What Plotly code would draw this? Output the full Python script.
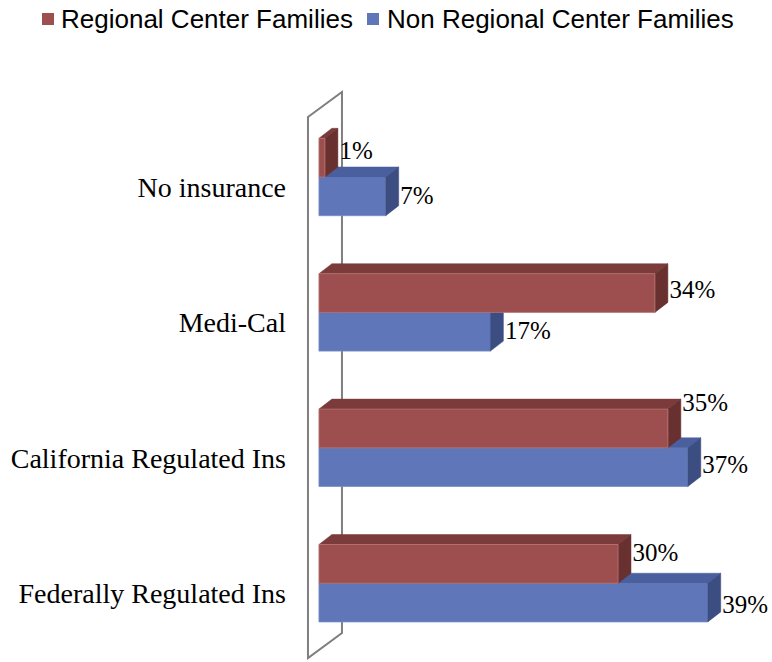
import plotly.graph_objects as go

# ---------------- data ----------------
categories = ["No insurance", "Medi-Cal", "California Regulated Ins", "Federally Regulated Ins"]
regional = [0.6, 33.7, 35, 30]
non_regional = [6.7, 17.2, 37, 39]
series_names = ["Regional Center Families", "Non Regional Center Families"]

# ---------------- style ----------------
W, H = 772, 662
ML, MR, MT, MB = 300, 10, 60, 2
RED = dict(front="#9C4F4E", top="#7B3B3A", side="#683130", edge="#B87574")
BLUE = dict(front="#5F77B8", top="#4A5F9E", side="#3C4D82", edge="#7A8DC6")
PX_Y = 135.4            # pixels per category unit
BAR_H = 38.7 / PX_Y     # bar thickness in category units
DX = 1.3                # 3D depth, x (value units)
DY = 10 / PX_Y          # 3D depth, y (category units)
LABEL_FONT = "Liberation Serif"
red_label_up_px = [4.5, 1, 24, 9.5]
blue_label_up_px = [-1.5, -1, 0, -4]
X_RANGE = [-1.9, 44.44]
Y_RANGE = [-0.567, 3.864]
WALL = dict(x_front=-1.10, x_back=2.31, y_front=(-0.553, 3.443), y_back=(-0.368, 3.628))
# legend layout (pixels from top-left)
LEG_SQ = [(42, 13, 12), (367, 13, 12)]     # x, y, size
LEG_TXT_X = [59, 385]
LEG_TXT_Y = 19
LEG_FONT = dict(family="Liberation Sans", size=26, color="#000000")

n = len(categories)
pos = [n - 1 - i for i in range(n)]   # boundary between the two bars of a category


def px_to_paper_x(px):
    return (px - ML) / (W - ML - MR)


def px_to_paper_y(py):
    return (H - MB - py) / (H - MT - MB)


def faces(values, y0s):
    tx, ty, sx, sy = [], [], [], []
    for v, y0 in zip(values, y0s):
        y1 = y0 + BAR_H
        tx += [0, v, v + DX, DX, 0, None]
        ty += [y1, y1, y1 + DY, y1 + DY, y1, None]
        sx += [v, v, v + DX, v + DX, v, None]
        sy += [y0, y1, y1 + DY, y0 + DY, y0, None]
    return tx, ty, sx, sy


fig = go.Figure()

red_y0 = [p for p in pos]
blue_y0 = [p - BAR_H for p in pos]

for vals, y0s, col in [(non_regional, blue_y0, BLUE), (regional, red_y0, RED)]:
    tx, ty, sx, sy = faces(vals, y0s)
    fig.add_trace(go.Scatter(x=tx, y=ty, mode="lines", fill="toself", fillcolor=col["top"],
                             line=dict(color=col["top"], width=0.5), showlegend=False,
                             hoverinfo="skip"))
    fig.add_trace(go.Scatter(x=sx, y=sy, mode="lines", fill="toself", fillcolor=col["side"],
                             line=dict(color=col["side"], width=0.5), showlegend=False,
                             hoverinfo="skip"))

# front faces
fig.add_trace(go.Bar(orientation="h", x=non_regional, y=[p - BAR_H / 2 for p in pos],
                     width=BAR_H, base=0, name=series_names[1], showlegend=False,
                     marker=dict(color=BLUE["front"], line=dict(color=BLUE["edge"], width=0.8))))
fig.add_trace(go.Bar(orientation="h", x=regional, y=[p + BAR_H / 2 for p in pos],
                     width=BAR_H, base=0, name=series_names[0], showlegend=False,
                     xaxis="x2", yaxis="y2",
                     marker=dict(color=RED["front"], line=dict(color=RED["edge"], width=0.8))))

# data labels
for vals, centers, ups in [(regional, [p + BAR_H / 2 for p in pos], red_label_up_px),
                           (non_regional, [p - BAR_H / 2 for p in pos], blue_label_up_px)]:
    fig.add_trace(go.Scatter(
        x=[v + DX + 0.15 for v in vals],
        y=[c + u / PX_Y for c, u in zip(centers, ups)],
        text=[f"{round(v)}%" for v in vals], mode="text", textposition="middle right",
        textfont=dict(family=LABEL_FONT, size=25, color="#000000"),
        showlegend=False, hoverinfo="skip", xaxis="x2", yaxis="y2", cliponaxis=False))

wall_path = (f"M {WALL['x_front']},{WALL['y_front'][1]} L {WALL['x_back']},{WALL['y_back'][1]} "
             f"L {WALL['x_back']},{WALL['y_back'][0]} L {WALL['x_front']},{WALL['y_front'][0]} Z")

shapes = [dict(type="path", path=wall_path, xref="x", yref="y", layer="below",
               fillcolor="white", line=dict(color="#7F7F7F", width=2))]
annotations = []
for (sx, sy, ss), col, tx, name in zip(LEG_SQ, [RED, BLUE], LEG_TXT_X, series_names):
    shapes.append(dict(type="rect", xref="paper", yref="paper",
                       x0=px_to_paper_x(sx), x1=px_to_paper_x(sx + ss),
                       y0=px_to_paper_y(sy + ss), y1=px_to_paper_y(sy),
                       fillcolor=col["front"], line=dict(width=0)))
    annotations.append(dict(xref="paper", yref="paper", x=px_to_paper_x(tx),
                            y=px_to_paper_y(LEG_TXT_Y), xanchor="left", yanchor="middle",
                            text=name, showarrow=False, font=LEG_FONT))

fig.update_layout(
    width=W, height=H,
    margin=dict(l=ML, r=MR, t=MT, b=MB, autoexpand=False),
    paper_bgcolor="white", plot_bgcolor="white",
    barmode="overlay",
    showlegend=False,
    xaxis=dict(range=X_RANGE, visible=False, fixedrange=True),
    yaxis=dict(range=Y_RANGE, tickvals=[p - 10 / PX_Y for p in pos], ticktext=categories,
               showgrid=False, zeroline=False, showline=False, ticks="",
               ticklabelstandoff=13, automargin=False,
               tickfont=dict(family=LABEL_FONT, size=28, color="#000")),
    xaxis2=dict(range=X_RANGE, overlaying="x", visible=False),
    yaxis2=dict(range=Y_RANGE, overlaying="y", visible=False),
    shapes=shapes,
    annotations=annotations,
)

fig.write_html("out.html",
               config={"displayModeBar": False},
               post_script="document.body.style.margin='0';document.body.style.overflow='hidden';")
